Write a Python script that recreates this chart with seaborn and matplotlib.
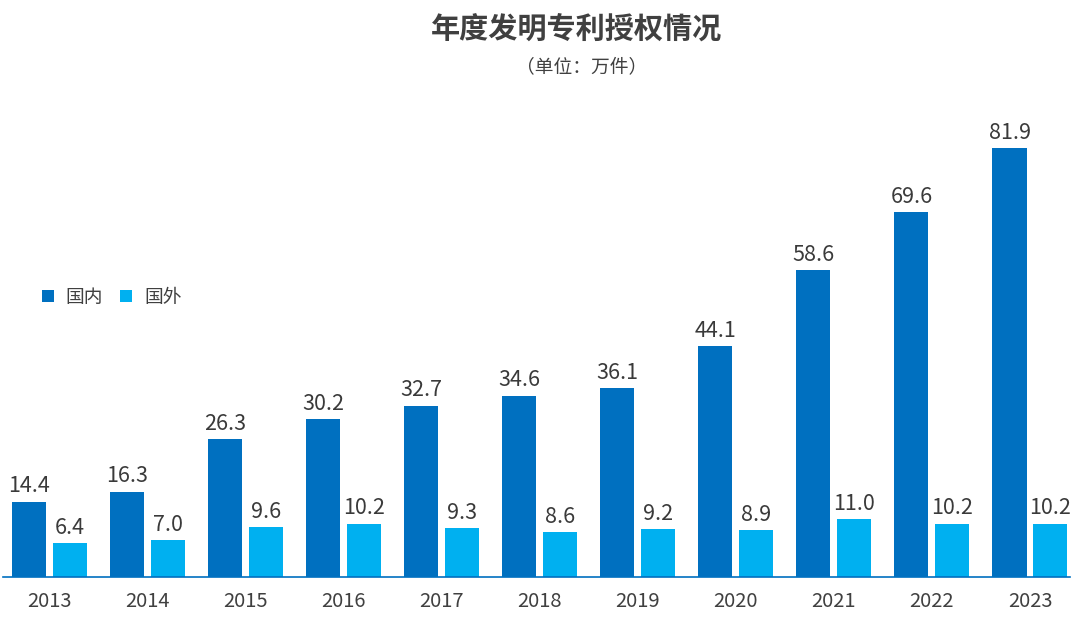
import pandas as pd
import matplotlib
matplotlib.use('Agg')
import matplotlib.pyplot as plt
import seaborn as sns

# data
years = ['2013', '2014', '2015', '2016', '2017', '2018', '2019', '2020', '2021', '2022', '2023']
domestic = [14.4, 16.3, 26.3, 30.2, 32.7, 34.6, 36.1, 44.1, 58.6, 69.6, 81.9]
foreign = [6.4, 7.0, 9.6, 10.2, 9.3, 8.6, 9.2, 8.9, 11.0, 10.2, 10.2]
series_names = ['国内', '国外']
colors = ['#0070C0', '#00B0F0']

df = pd.DataFrame({'year': years * 2,
                   'value': domestic + foreign,
                   'source': [series_names[0]] * len(years) + [series_names[1]] * len(years)})

sns.set_theme(style='white')
plt.rcParams['font.family'] = ['Noto Sans CJK SC', 'DejaVu Sans']

fig = plt.figure(figsize=(10.8, 6.25), dpi=100)
ax = fig.add_axes([3 / 1080, 48 / 625, 1067 / 1080, 477 / 625])

sns.barplot(data=df, x='year', y='value', hue='source', palette=colors,
            width=0.836, gap=0.17, saturation=1, ax=ax, linewidth=0)

for c in ax.containers:
    ax.bar_label(c, fmt='%.1f', padding=3, fontsize=15.5, color='#3a3a3a',
                 fontweight='medium')

ax.set_ylim(0, 91)
ax.set_xlim(-0.474, 10.408)
ax.set_xlabel('')
ax.set_ylabel('')
ax.set_yticks([])
ax.tick_params(axis='x', length=0, labelsize=14.5, labelcolor='#404040', pad=10)
for s in ['top', 'right', 'left']:
    ax.spines[s].set_visible(False)
ax.spines['bottom'].set_color('#0070C0')
ax.spines['bottom'].set_linewidth(1.2)

ax.legend(loc='center left', bbox_to_anchor=(42 / 1080, 1 - 297 / 625),
          bbox_transform=fig.transFigure, ncol=2, frameon=False, fontsize=13.5,
          handlelength=0.62, handleheight=0.62, handletextpad=0.65,
          columnspacing=0.9, borderpad=0, borderaxespad=0, labelcolor='#404040')

fig.text(577 / 1080, 1 - 30 / 625, '年度发明专利授权情况', ha='center', va='center',
         fontsize=21, fontweight='bold', color='#404040')
fig.text(582 / 1080, 1 - 67 / 625, '（单位：万件）', ha='center', va='center',
         fontsize=13.5, color='#404040')

fig.savefig('out.png', dpi=100)
